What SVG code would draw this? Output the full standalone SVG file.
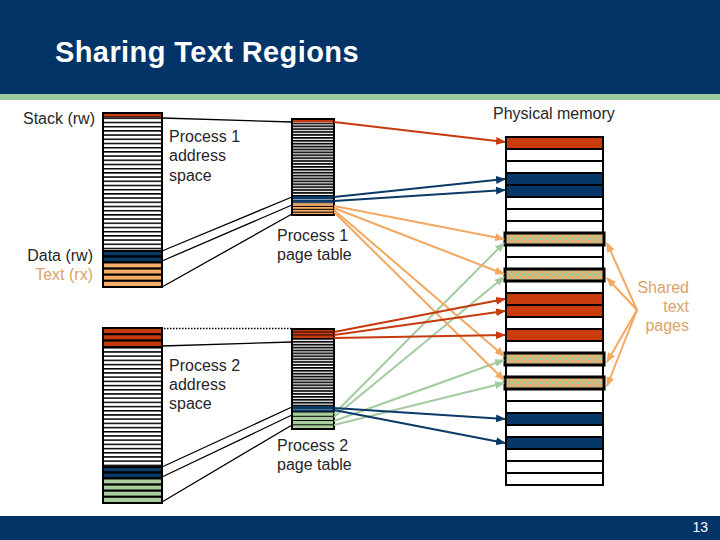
<svg xmlns="http://www.w3.org/2000/svg" width="720" height="540" viewBox="0 0 720 540">
<style>
.lbl{font-family:"Liberation Sans",Arial,sans-serif;font-size:16px;fill:#262626}
.sh{fill:#D9A36A}
.map{stroke:#000;stroke-width:1.3;fill:none}
.row{stroke:#000;stroke-width:2}
.ar{fill:none;stroke-width:2}
</style>
<defs>
<pattern id="asp" patternUnits="userSpaceOnUse" x="0" y="117.5" width="60" height="4.2"><rect width="60" height="4.2" fill="#fff"/><rect width="60" height="1.5" fill="#000"/></pattern>
<pattern id="asp2" patternUnits="userSpaceOnUse" x="0" y="347" width="60" height="4.2"><rect width="60" height="4.2" fill="#fff"/><rect width="60" height="1.5" fill="#000"/></pattern>
<pattern id="ptp" patternUnits="userSpaceOnUse" x="0" y="122.5" width="60" height="2.9"><rect width="60" height="2.9" fill="#fff"/><rect width="60" height="1.7" fill="#000"/></pattern>
<pattern id="ptp2" patternUnits="userSpaceOnUse" x="0" y="338" width="60" height="2.9"><rect width="60" height="2.9" fill="#fff"/><rect width="60" height="1.7" fill="#000"/></pattern>
<pattern id="chk" patternUnits="userSpaceOnUse" width="6" height="6"><rect width="6" height="6" fill="#A9C996"/><rect width="3" height="3" fill="#EFAA68"/><rect x="3" y="3" width="3" height="3" fill="#EFAA68"/></pattern>
<marker id="mR" markerUnits="userSpaceOnUse" markerWidth="10" markerHeight="8" refX="9" refY="4" orient="auto"><path d="M0,0 L10,4 L0,8 z" fill="#C53A0E"/></marker>
<marker id="mB" markerUnits="userSpaceOnUse" markerWidth="10" markerHeight="8" refX="9" refY="4" orient="auto"><path d="M0,0 L10,4 L0,8 z" fill="#0B3A66"/></marker>
<marker id="mO" markerUnits="userSpaceOnUse" markerWidth="10" markerHeight="8" refX="9" refY="4" orient="auto"><path d="M0,0 L10,4 L0,8 z" fill="#F2A860"/></marker>
<marker id="mG" markerUnits="userSpaceOnUse" markerWidth="10" markerHeight="8" refX="9" refY="4" orient="auto"><path d="M0,0 L10,4 L0,8 z" fill="#A3CBA0"/></marker>
</defs>

<rect width="720" height="540" fill="#fff"/>
<rect width="720" height="94" fill="#023467"/>
<rect y="94" width="720" height="6" fill="#9BCB9B"/>
<text x="55" y="62" font-family="Liberation Sans,Arial,sans-serif" font-size="29" font-weight="bold" letter-spacing="0.4" fill="#fff">Sharing Text Regions</text>
<rect y="516" width="720" height="24" fill="#023467"/>
<text x="708" y="532" text-anchor="end" font-family="Liberation Sans,Arial,sans-serif" font-size="14" fill="#fff">13</text>

<g id="p1-address-space">
<rect x="103" y="113" width="59" height="4.5" fill="#C53A0E" class="row" stroke-width="1.3"/>
<rect x="103" y="117.5" width="59" height="133.5" fill="url(#asp)"/>
<rect x="103" y="251" width="59" height="5.5" fill="#0B3A66" class="row" stroke-width="1.3"/>
<rect x="103" y="256.5" width="59" height="5.5" fill="#0B3A66" class="row" stroke-width="1.3"/>
<rect x="103" y="262.5" width="59" height="6.1" fill="#F4AC66" class="row" stroke-width="1.3"/>
<rect x="103" y="268.6" width="59" height="6.1" fill="#F4AC66" class="row" stroke-width="1.3"/>
<rect x="103" y="274.7" width="59" height="6.1" fill="#F4AC66" class="row" stroke-width="1.3"/>
<rect x="103" y="280.8" width="59" height="6.2" fill="#F4AC66" class="row" stroke-width="1.3"/>
<rect x="103" y="113" width="59" height="174" fill="none" class="row"/>
</g>

<g id="p1-page-table">
<rect x="292" y="119" width="42" height="3.5" fill="#C53A0E"/>
<rect x="292" y="122.5" width="42" height="73.5" fill="url(#ptp)"/>
<rect x="292" y="196" width="42" height="3" fill="#0B3A66"/>
<rect x="292" y="199.5" width="42" height="3" fill="#0B3A66"/>
<rect x="292" y="202.5" width="42" height="1" fill="#000"/>
<rect x="292" y="203.5" width="42" height="11.5" fill="#F4AC66"/>
<path d="M292 206.4h42M292 209.3h42M292 212.2h42" stroke="#000" stroke-width="1"/>
<rect x="292" y="119" width="42" height="96" fill="none" class="row"/>
</g>

<g id="p2-address-space">
<rect x="103" y="328" width="59" height="6.3" fill="#C53A0E" class="row" stroke-width="1.3"/>
<rect x="103" y="334.3" width="59" height="6.3" fill="#C53A0E" class="row" stroke-width="1.3"/>
<rect x="103" y="340.6" width="59" height="6.4" fill="#C53A0E" class="row" stroke-width="1.3"/>
<rect x="103" y="347" width="59" height="120" fill="url(#asp2)"/>
<rect x="103" y="467" width="59" height="5.5" fill="#0B3A66" class="row" stroke-width="1.3"/>
<rect x="103" y="472.5" width="59" height="5.5" fill="#0B3A66" class="row" stroke-width="1.3"/>
<rect x="103" y="478.5" width="59" height="6.1" fill="#A8CE9E" class="row" stroke-width="1.3"/>
<rect x="103" y="484.6" width="59" height="6.1" fill="#A8CE9E" class="row" stroke-width="1.3"/>
<rect x="103" y="490.7" width="59" height="6.1" fill="#A8CE9E" class="row" stroke-width="1.3"/>
<rect x="103" y="496.8" width="59" height="6.2" fill="#A8CE9E" class="row" stroke-width="1.3"/>
<rect x="103" y="328" width="59" height="175" fill="none" class="row"/>
</g>

<g id="p2-page-table">
<rect x="292" y="329" width="42" height="9" fill="#C53A0E"/>
<path d="M292 332h42M292 335h42" stroke="#000" stroke-width="0.8"/>
<rect x="292" y="338" width="42" height="68" fill="url(#ptp2)"/>
<rect x="292" y="406" width="42" height="3" fill="#0B3A66"/>
<rect x="292" y="409.3" width="42" height="2.7" fill="#0B3A66"/>
<rect x="292" y="412" width="42" height="17" fill="#A8CE9E"/>
<path d="M292 412h42M292 416.3h42M292 420.5h42M292 424.8h42" stroke="#000" stroke-width="1"/>
<rect x="292" y="329" width="42" height="100" fill="none" class="row"/>
</g>

<g id="physical-memory">
<rect x="506" y="137" width="97" height="348" fill="#fff" class="row"/>
<rect x="506" y="137" width="97" height="12" fill="#C83C0E" class="row"/>
<rect x="506" y="149" width="97" height="12" fill="#fff" class="row"/>
<rect x="506" y="161" width="97" height="12" fill="#fff" class="row"/>
<rect x="506" y="173" width="97" height="12" fill="#053868" class="row"/>
<rect x="506" y="185" width="97" height="12" fill="#053868" class="row"/>
<rect x="506" y="197" width="97" height="12" fill="#fff" class="row"/>
<rect x="506" y="209" width="97" height="12" fill="#fff" class="row"/>
<rect x="506" y="221" width="97" height="12" fill="#fff" class="row"/>
<rect x="506" y="245" width="97" height="12" fill="#fff" class="row"/>
<rect x="506" y="257" width="97" height="12" fill="#fff" class="row"/>
<rect x="506" y="281" width="97" height="12" fill="#fff" class="row"/>
<rect x="506" y="293" width="97" height="12" fill="#C83C0E" class="row"/>
<rect x="506" y="305" width="97" height="12" fill="#C83C0E" class="row"/>
<rect x="506" y="317" width="97" height="12" fill="#fff" class="row"/>
<rect x="506" y="329" width="97" height="12" fill="#C83C0E" class="row"/>
<rect x="506" y="341" width="97" height="12" fill="#fff" class="row"/>
<rect x="506" y="365" width="97" height="12" fill="#fff" class="row"/>
<rect x="506" y="389" width="97" height="12" fill="#fff" class="row"/>
<rect x="506" y="401" width="97" height="12" fill="#fff" class="row"/>
<rect x="506" y="413" width="97" height="12" fill="#053868" class="row"/>
<rect x="506" y="425" width="97" height="12" fill="#fff" class="row"/>
<rect x="506" y="437" width="97" height="12" fill="#053868" class="row"/>
<rect x="506" y="449" width="97" height="12" fill="#fff" class="row"/>
<rect x="506" y="461" width="97" height="12" fill="#fff" class="row"/>
<rect x="506" y="473" width="97" height="12" fill="#fff" class="row"/>
<rect x="505" y="233" width="99" height="12" fill="url(#chk)" stroke="#000" stroke-width="3"/>
<rect x="505" y="269" width="99" height="12" fill="url(#chk)" stroke="#000" stroke-width="3"/>
<rect x="505" y="353" width="99" height="12" fill="url(#chk)" stroke="#000" stroke-width="3"/>
<rect x="505" y="377" width="99" height="12" fill="url(#chk)" stroke="#000" stroke-width="3"/>
</g>

<g id="connectors">
<path class="map" d="M162 118L292 122M162 251L292 197M162 261L292 205M162 287L292 214"/>
<path class="map" d="M162 346L292 342M162 467L292 407M162 477L292 415M162 502L292 425"/>
<path class="map" d="M164 328.5H292" stroke-dasharray="1.5 1.5"/>
<g class="ar" stroke="#A3CBA0" marker-end="url(#mG)">
<path d="M334 414L504 243"/><path d="M334 417L504 277"/><path d="M334 421L504 360"/><path d="M334 425L504 383"/>
</g>
<g class="ar" stroke="#F2A860" marker-end="url(#mO)">
<path d="M334 206L504 239"/><path d="M334 208L504 274"/><path d="M334 210L504 356"/><path d="M334 212L504 380"/>
</g>
<g class="ar" stroke="#C53A0E" marker-end="url(#mR)">
<path d="M334 122L505 142"/><path d="M334 332L505 299"/><path d="M334 335L505 311"/><path d="M334 338L505 335"/>
</g>
<g class="ar" stroke="#0B3A66" marker-end="url(#mB)">
<path d="M334 197L505 179"/><path d="M334 201L505 190"/><path d="M334 408L505 419"/><path d="M334 410L505 443"/>
</g>
<g class="ar" stroke="#F2A860" marker-end="url(#mO)">
<path d="M637 310L607 243"/><path d="M637 310L607 278"/><path d="M637 310L607 362"/><path d="M637 310L607 386"/>
</g>
</g>

<g id="labels">
<text class="lbl" x="95" y="124" text-anchor="end">Stack (rw)</text>
<text class="lbl" x="493" y="119">Physical memory</text>
<text class="lbl" x="169" y="142">Process 1</text>
<text class="lbl" x="169" y="161">address</text>
<text class="lbl" x="169" y="181">space</text>
<text class="lbl" x="277" y="241">Process 1</text>
<text class="lbl" x="277" y="260">page table</text>
<text class="lbl" x="93" y="261" text-anchor="end">Data (rw)</text>
<text class="lbl sh" x="93" y="280" text-anchor="end">Text (rx)</text>
<text class="lbl" x="169" y="371">Process 2</text>
<text class="lbl" x="169" y="390">address</text>
<text class="lbl" x="169" y="409">space</text>
<text class="lbl" x="277" y="451">Process 2</text>
<text class="lbl" x="277" y="470">page table</text>
<text class="lbl sh" x="689" y="293" text-anchor="end">Shared</text>
<text class="lbl sh" x="689" y="312" text-anchor="end">text</text>
<text class="lbl sh" x="689" y="331" text-anchor="end">pages</text>
</g>
</svg>
